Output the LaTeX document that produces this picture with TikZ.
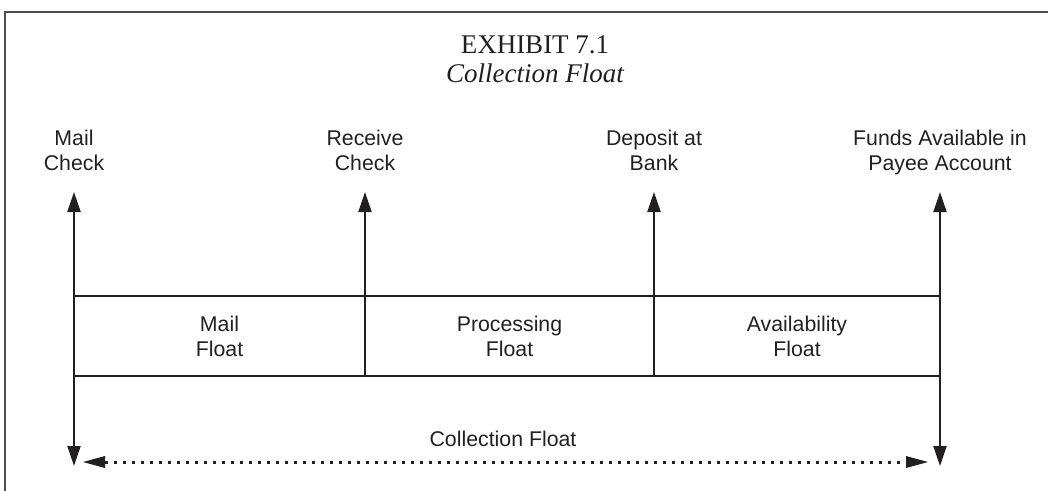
\documentclass[tikz,border=0pt]{standalone}
\usepackage{fontspec}
\setmainfont{Liberation Serif}
\newfontfamily\labelfont{Liberation Sans}
\usetikzlibrary{arrows.meta}
\definecolor{ink}{HTML}{231F20}
\tikzset{
  lbl/.style={font=\labelfont\fontsize{21.3}{25}\selectfont, align=center, inner sep=0pt, text=ink},
  ttl/.style={font=\fontsize{27}{29}\selectfont, inner sep=0pt, text=ink},
  bar/.style={draw=ink, line width=2pt},
  tip/.style={-{Triangle[length=20pt,width=13pt]}},
  span/.style={draw=ink, line width=3pt, dash pattern=on 3pt off 6pt,
    {Triangle[length=22pt,width=12pt,line width=0pt]}-{Triangle[length=22pt,width=12pt,line width=0pt]}}
}
\begin{document}
\begin{tikzpicture}[x=1pt,y=-1pt]
  \useasboundingbox (0,0) rectangle (1048,490);
  \begin{scope}
    \clip (0,0) rectangle (1048,490);
    \draw[draw=ink!80, line width=2pt] (5,12) rectangle (1060,500);
  \end{scope}

  % title
  \node[ttl, anchor=base] (t1) at (535,53) {EXHIBIT 7.1};
  \node[ttl, anchor=base, font=\itshape\fontsize{27}{29}\selectfont] (t2) at (535,82) {Collection Float};

  % event markers along the time line
  \coordinate (a0) at (74,192);   \coordinate (b0) at (74,466);
  \coordinate (a1) at (365,192);  \coordinate (b1) at (365,376);
  \coordinate (a2) at (654,192);  \coordinate (b2) at (654,376);
  \coordinate (a3) at (940,192);  \coordinate (b3) at (940,466);
  \coordinate (r0) at (74,296);   \coordinate (r0b) at (74,376);
  \coordinate (r3) at (940,296);  \coordinate (r3b) at (940,376);

  \node[lbl, anchor=base] (l0) at (74,170) {Mail\\Check};
  \node[lbl, anchor=base] (l1) at (365,170) {Receive\\Check};
  \node[lbl, anchor=base] (l2) at (654,170) {Deposit at\\Bank};
  \node[lbl, anchor=base] (l3) at (940,170) {Funds Available in\\Payee Account};

  % float band
  \draw[bar] (r0) -- (r3);
  \draw[bar] (r0b) -- (r3b);
  \draw[bar, tip] (r0) -- (a0);
  \draw[bar, tip] (b1) -- (a1);
  \draw[bar, tip] (b2) -- (a2);
  \draw[bar, tip] (r3) -- (a3);
  \draw[bar, tip] (r0) -- (b0);
  \draw[bar, tip] (r3) -- (b3);

  \node[lbl] (f1) at (219.5,336) {Mail\\Float};
  \node[lbl] (f2) at (509.5,336) {Processing\\Float};
  \node[lbl] (f3) at (797,336) {Availability\\Float};

  % total span
  \coordinate (s0) at (83,462);
  \coordinate (s1) at (928,462);
  \draw[span] (s0) -- (s1);
  \node[lbl, anchor=base] (ct) at (503,446) {Collection Float};
\end{tikzpicture}
\end{document}
